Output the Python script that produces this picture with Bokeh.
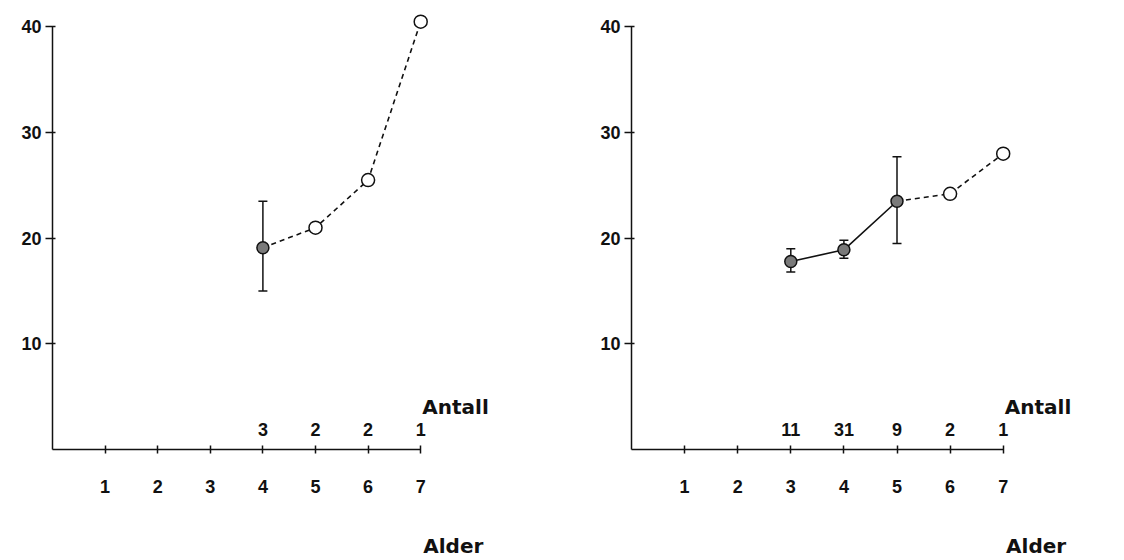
from bokeh.plotting import figure
from bokeh.layouts import row
from bokeh.models import (ColumnDataSource, FixedTicker, Label, Whisker, TeeHead,
                          LinearAxis)
from bokeh.embed import file_html
from bokeh.resources import INLINE
from bokeh.core.properties import value

# Left panel: mean per age class, count per class, spread for the larger class
left_age = [4, 5, 6, 7]
left_mean = [19.1, 21.0, 25.5, 40.5]
left_n = [3, 2, 2, 1]
left_err_age = [4]
left_err_low = [15.0]
left_err_high = [23.5]

# Right panel
right_age = [3, 4, 5, 6, 7]
right_mean = [17.8, 18.9, 23.5, 24.2, 28.0]
right_n = [11, 31, 9, 2, 1]
right_err_age = [3, 4, 5]
right_err_low = [16.8, 18.1, 19.5]
right_err_high = [19.0, 19.8, 27.7]

x_ticks = [1, 2, 3, 4, 5, 6, 7]
y_ticks = [10, 20, 30, 40]
x_title = "Alder"
n_title = "Antall"

FONT = "Liberation Sans"
TITLE_FONT = "DejaVu Sans"
INK = "#111111"


def panel(ages, means, counts, e_age, e_low, e_high, width, x_end):
    p = figure(width=width, height=560, x_range=(0, x_end), y_range=(0, 42.5),
               output_backend="svg", toolbar_location=None,
               min_border_left=52, min_border_right=0, min_border_top=0,
               min_border_bottom=110)
    p.outline_line_color = None
    p.grid.visible = False
    p.background_fill_color = "white"
    p.border_fill_color = "white"

    xa = p.xaxis[0]
    xa.ticker = FixedTicker(ticks=x_ticks)
    xa.bounds = (0, 7)
    xa.axis_line_width = 1.5
    xa.axis_line_color = INK
    xa.major_tick_in = 4
    xa.major_tick_out = 4
    xa.major_tick_line_color = INK
    xa.major_tick_line_width = 1.5
    xa.minor_tick_line_color = None
    xa.major_label_standoff = 26
    xa.major_label_text_font = FONT
    xa.major_label_text_font_style = "bold"
    xa.major_label_text_font_size = "18px"
    xa.major_label_text_color = INK

    # second, bare axis below the first one carries the age caption,
    # centred just right of the last tick
    cap_pos = 7.62
    cap = LinearAxis(ticker=FixedTicker(ticks=[cap_pos]),
                     major_label_overrides={cap_pos: x_title},
                     axis_line_color=None, major_tick_line_color=None,
                     minor_tick_line_color=None, major_tick_out=0,
                     major_tick_in=0, major_label_standoff=38,
                     major_label_text_font=TITLE_FONT,
                     major_label_text_font_style="bold",
                     major_label_text_font_size="20px",
                     major_label_text_color=INK)
    p.add_layout(cap, "below")

    ya = p.yaxis[0]
    ya.ticker = FixedTicker(ticks=y_ticks)
    ya.bounds = (0, 40)
    ya.axis_line_width = 1.5
    ya.axis_line_color = INK
    ya.major_tick_in = 3
    ya.major_tick_out = 7
    ya.major_tick_line_color = INK
    ya.major_tick_line_width = 1.5
    ya.minor_tick_line_color = None
    ya.major_label_standoff = 4
    ya.major_label_text_font = FONT
    ya.major_label_text_font_style = "bold"
    ya.major_label_text_font_size = "18px"
    ya.major_label_text_color = INK

    filled = [i for i, n in enumerate(counts) if n >= 3]
    last = filled[-1]

    # solid line through the well-sampled classes, dashed onward
    if len(filled) > 1:
        p.line([ages[i] for i in filled], [means[i] for i in filled],
               line_color=INK, line_width=1.6)
    p.line(ages[last:], means[last:], line_color=INK, line_width=1.6,
           line_dash="5 4")

    err = ColumnDataSource(dict(x=e_age, lo=e_low, hi=e_high))
    p.add_layout(Whisker(source=err, base="x", lower="lo", upper="hi",
                         line_color=INK, line_width=1.5,
                         upper_head=TeeHead(size=9, line_color=INK, line_width=1.5),
                         lower_head=TeeHead(size=9, line_color=INK, line_width=1.5)))

    p.scatter([ages[i] for i in filled], [means[i] for i in filled], size=12,
              fill_color="#7a7a7a", line_color=INK, line_width=1.5)
    open_idx = [i for i in range(len(ages)) if i > last]
    p.scatter([ages[i] for i in open_idx], [means[i] for i in open_idx], size=13,
              fill_color="white", line_color=INK, line_width=1.5)

    src = ColumnDataSource(dict(x=ages, t=[str(n) for n in counts]))
    p.text(x="x", y=1.9, text="t", source=src, text_align="center",
           text_baseline="middle", text_font=value(FONT),
           text_font_style="bold", text_font_size="18px", text_color=INK)

    p.add_layout(Label(x=7.03, y=4.0, text=n_title, text_align="left",
                       text_baseline="middle", text_font=TITLE_FONT,
                       text_font_style="bold", text_font_size="20px",
                       text_color=INK))
    return p


left = panel(left_age, left_mean, left_n, left_err_age, left_err_low,
             left_err_high, 579, 527 / 52.6)
right = panel(right_age, right_mean, right_n, right_err_age, right_err_low,
              right_err_high, 545, 493 / 53.1)

layout = row(left, right)
open("out.html", "w").write(file_html(layout, INLINE))
